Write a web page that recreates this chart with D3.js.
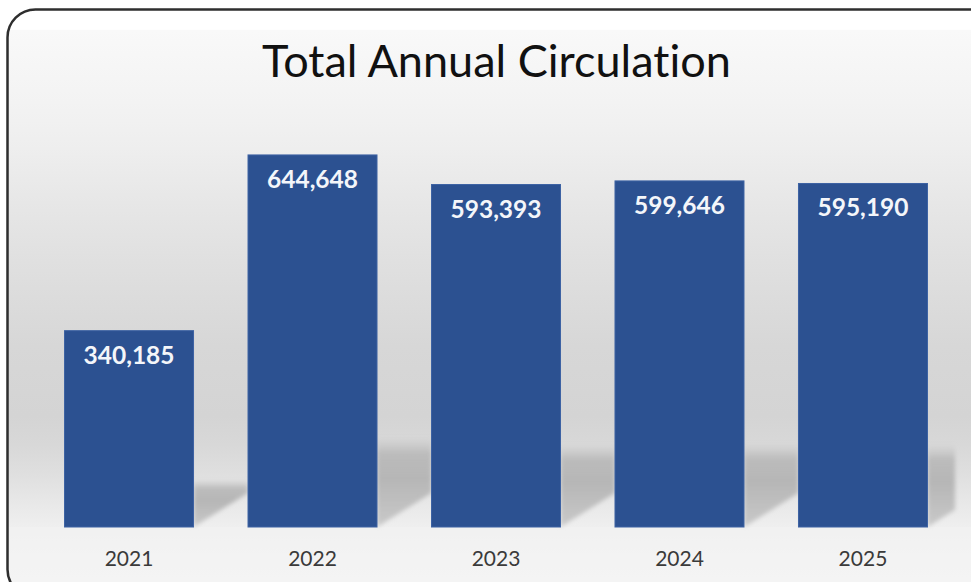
<!DOCTYPE html>
<html>
<head>
<meta charset="utf-8">
<script src="https://cdn.jsdelivr.net/npm/d3@7/dist/d3.min.js"></script>
<style>
  html, body { margin: 0; padding: 0; background: #ffffff; }
  svg { display: block; }
  text { font-variant-ligatures: none; font-feature-settings: "liga" 0; }
</style>
</head>
<body>
<svg id="chart" width="971" height="582"></svg>
<script>
// Circulation totals per year
const years = ["2021", "2022", "2023", "2024", "2025"];
const circulation = [340185, 644648, 593393, 599646, 595190];
const chartTitle = "Total Annual Circulation";

const svg = d3.select("#chart");
const defs = svg.append("defs");

// Panel background: light at the top, darkening towards the floor, then light again
const bg = defs.append("linearGradient").attr("id", "panelGrad")
  .attr("gradientUnits", "userSpaceOnUse")
  .attr("x1", 0).attr("y1", 9).attr("x2", 0).attr("y2", 590);
[[0, "#ffffff"], [0.035, "#ffffff"], [0.037, "#f9f9f9"], [0.16, "#f3f3f3"],
 [0.24, "#eeeeee"], [0.36, "#e5e5e5"], [0.48, "#dddddd"], [0.58, "#d7d7d7"],
 [0.70, "#d4d4d4"], [0.75, "#d8d8d8"], [0.80, "#dfdfdf"], [0.85, "#e8e8e8"],
 [0.905, "#f1f1f1"], [0.96, "#f6f6f6"], [1, "#f8f8f8"]]
  .forEach(([o, c]) => bg.append("stop").attr("offset", o).attr("stop-color", c));

const shadowGrad = defs.append("linearGradient").attr("id", "shadowGrad")
  .attr("x1", 0).attr("y1", 0).attr("x2", 0).attr("y2", 1);
[[0, "#bdbdbd", 0], [0.18, "#b8b8b8", 0.9], [0.45, "#b6b6b6", 1], [1, "#c9c9c9", 1]]
  .forEach(([o, c, a]) => shadowGrad.append("stop").attr("offset", o)
    .attr("stop-color", c).attr("stop-opacity", a));

defs.append("filter").attr("id", "soft")
  .attr("x", "-20%").attr("y", "-20%").attr("width", "140%").attr("height", "140%")
  .append("feGaussianBlur").attr("stdDeviation", 2.2);

defs.append("clipPath").attr("id", "panelClip")
  .append("rect").attr("x", 8).attr("y", 10).attr("width", 990).attr("height", 590).attr("rx", 28);

// Rounded panel
svg.append("rect")
  .attr("x", 7.5).attr("y", 9.5).attr("width", 990).attr("height", 588)
  .attr("rx", 28).attr("ry", 28)
  .attr("fill", "url(#panelGrad)");

// Scales
const x = d3.scaleBand().domain(years).range([37, 955])
  .paddingInner(0.297).paddingOuter(0.15);
const y = d3.scaleLinear().domain([0, 700000]).range([527, 123]);

const data = years.map((yr, i) => ({ year: yr, value: circulation[i] }));
const y0 = y(0);
const gap = x.step() - x.bandwidth();

// Floor below the baseline
const plot = svg.append("g").attr("clip-path", "url(#panelClip)");
plot.append("rect").attr("x", 8).attr("y", y0).attr("width", 990).attr("height", 60)
  .attr("fill", "#f2f2f2").attr("opacity", 0.6);

// Cast shadows behind each bar
plot.append("g").selectAll("path").data(data).join("path")
  .attr("filter", "url(#soft)")
  .attr("fill", "url(#shadowGrad)")
  .attr("d", d => {
    const x1 = x(d.year) + x.bandwidth();
    const x2 = Math.min(x1 + gap, 955);
    const top = y0 - 0.24 * (y0 - y(d.value));
    const drop = 34 * (x2 - x1) / gap;
    return `M${x1},${top}L${x2},${top}L${x2},${y0 - drop}L${x1},${y0}Z`;
  });

// Bars
svg.append("g").selectAll("rect").data(data).join("rect")
  .attr("x", d => x(d.year))
  .attr("y", d => y(d.value))
  .attr("width", x.bandwidth())
  .attr("height", d => y0 - y(d.value))
  .attr("fill", "#2c5191")
  .attr("stroke", "#3d62a3")
  .attr("stroke-width", 1);

// Value labels inside the bars
const fmt = d3.format(",");
svg.append("g").selectAll("text").data(data).join("text")
  .attr("x", d => x(d.year) + x.bandwidth() / 2)
  .attr("y", d => y(d.value) + 33)
  .attr("text-anchor", "middle")
  .attr("font-family", "Lato, 'Open Sans', sans-serif")
  .attr("font-weight", 700)
  .attr("font-size", 24.5)
  .attr("fill", "#f4f6fa")
  .text(d => fmt(d.value));

// Category axis (labels only)
const xAxis = svg.append("g").attr("transform", `translate(0,${y0})`)
  .call(d3.axisBottom(x).tickSize(0).tickPadding(24));
xAxis.select(".domain").remove();
xAxis.selectAll("text")
  .attr("font-family", "Lato, 'Open Sans', sans-serif")
  .attr("font-size", 21)
  .attr("fill", "#3a3a3a");

// Title, sized to span its measured width
const title = svg.append("text")
  .attr("x", 496.5).attr("y", 77)
  .attr("text-anchor", "middle")
  .attr("font-family", "Lato, 'Open Sans', sans-serif")
  .attr("font-size", 46)
  .attr("fill", "#111111")
  .text(chartTitle);
const tw = title.node().getComputedTextLength();
title.attr("font-size", 46 * 469 / tw);

// Panel outline
svg.append("rect")
  .attr("x", 7.5).attr("y", 9.5).attr("width", 990).attr("height", 588)
  .attr("rx", 28).attr("ry", 28)
  .attr("fill", "none").attr("stroke", "#2e2e2e").attr("stroke-width", 2.5);
</script>
</body>
</html>
